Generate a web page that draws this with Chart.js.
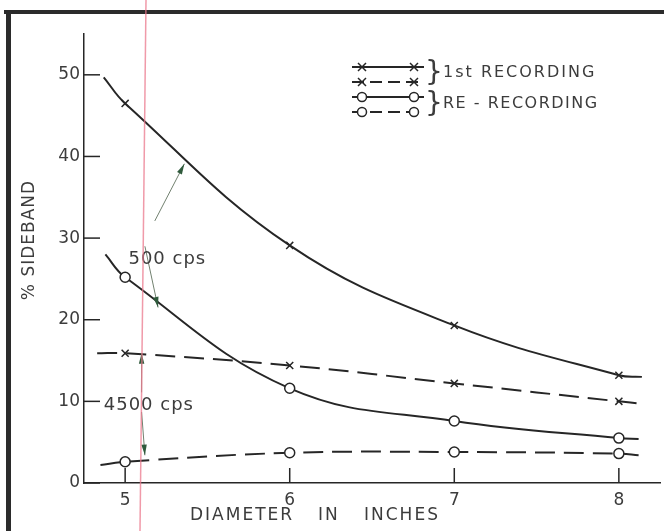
<!DOCTYPE html>
<html lang="en">
<head>
  <meta charset="UTF-8" />
  <title>% Sideband vs Diameter</title>
  <script src="https://cdn.jsdelivr.net/npm/chart.js"></script>
  <style>
    html, body { margin: 0; padding: 0; background: #fff; }
    #wrap { width: 664px; height: 531px; }
  </style>
</head>
<body>
  <div id="wrap"><canvas id="sidebandChart" width="664" height="531"></canvas></div>

  <script>
    // values (x = diameter in inches, y = % sideband)
    const xTicks = [5, 6, 7, 8];
    const yTicks = [0, 10, 20, 30, 40, 50];

    const xFirst500 = [4.87, 5, 6, 7, 8, 8.14];
    const yFirst500 = [49.7, 46.5, 29.1, 19.3, 13.2, 13.0];

    const xFirst4500 = [4.83, 5, 6, 7, 8, 8.14];
    const yFirst4500 = [15.9, 15.9, 14.4, 12.2, 10.0, 9.7];

    const xRe500 = [4.88, 5, 6, 7, 8, 8.12];
    const yRe500 = [28.0, 25.2, 11.6, 7.6, 5.5, 5.4];

    const xRe4500 = [4.85, 5, 6, 7, 8, 8.12];
    const yRe4500 = [2.2, 2.6, 3.7, 3.8, 3.6, 3.4];

    const ink = '#262626';
    const textInk = '#3c3c3c';
    const font = '"DejaVu Sans", sans-serif';

    function pts(xs, ys) {
      return xs.map((x, i) => ({ x: x, y: ys[i] }));
    }
    // no marker on the free ends of each curve
    function radii(xs, r) {
      return xs.map((x, i) => (i === 0 || i === xs.length - 1) ? 0 : r);
    }

    function series(label, xs, ys, dashed, style) {
      return {
        label: label,
        data: pts(xs, ys),
        borderColor: ink,
        borderWidth: 2,
        borderDash: dashed ? [20, 9] : [],
        tension: 0.4,
        pointStyle: style,
        pointRadius: radii(xs, 5),
        pointBorderWidth: 1.5,
        pointBorderColor: ink,
        pointBackgroundColor: '#fff',
        fill: false
      };
    }

    // arrows for the "500 cps" / "4500 cps" notes, in data units
    const noteArrows = [
      { from: [5.18, 32.1], to: [5.36, 39.1] },
      { from: [5.12, 29.0], to: [5.20, 21.5] },
      { from: [5.10, 11.1], to: [5.10, 15.9] },
      { from: [5.10, 8.7],  to: [5.12, 3.4] }
    ];
    const notes = [
      { text: '500 cps', at: [5.02, 27.4] },
      { text: '4500 cps', at: [4.87, 9.5] }
    ];

    function arrow(ctx, x1, y1, x2, y2) {
      const a = Math.atan2(y2 - y1, x2 - x1);
      ctx.strokeStyle = '#71806f';
      ctx.lineWidth = 1;
      ctx.beginPath();
      ctx.moveTo(x1, y1);
      ctx.lineTo(x2, y2);
      ctx.stroke();
      ctx.fillStyle = '#2f5a3c';
      ctx.beginPath();
      ctx.moveTo(x2, y2);
      ctx.lineTo(x2 - 11 * Math.cos(a - 0.25), y2 - 11 * Math.sin(a - 0.25));
      ctx.lineTo(x2 - 11 * Math.cos(a + 0.25), y2 - 11 * Math.sin(a + 0.25));
      ctx.closePath();
      ctx.fill();
    }

    function legendMark(ctx, x, y, style) {
      ctx.setLineDash([]);
      ctx.lineWidth = 1.5;
      ctx.strokeStyle = ink;
      ctx.beginPath();
      if (style === 'circle') {
        ctx.fillStyle = '#fff';
        ctx.arc(x, y, 4.5, 0, Math.PI * 2);
        ctx.fill();
        ctx.stroke();
      } else {
        ctx.moveTo(x - 4, y - 4); ctx.lineTo(x + 4, y + 4);
        ctx.moveTo(x + 4, y - 4); ctx.lineTo(x - 4, y + 4);
        ctx.stroke();
      }
    }

    const decor = {
      id: 'decor',
      afterDraw(chart) {
        const ctx = chart.ctx;
        const xs = chart.scales.x, ys = chart.scales.y;
        const area = chart.chartArea;
        ctx.save();

        // inward tick marks
        ctx.strokeStyle = ink;
        ctx.lineWidth = 1.5;
        ctx.setLineDash([]);
        yTicks.forEach(v => {
          const py = ys.getPixelForValue(v);
          ctx.beginPath();
          ctx.moveTo(area.left, py);
          ctx.lineTo(area.left + 16, py);
          ctx.stroke();
        });
        xTicks.forEach(v => {
          const px = xs.getPixelForValue(v);
          ctx.beginPath();
          ctx.moveTo(px, area.bottom);
          ctx.lineTo(px, area.bottom - 15);
          ctx.stroke();
        });

        // notes and arrows
        noteArrows.forEach(a => arrow(ctx,
          xs.getPixelForValue(a.from[0]), ys.getPixelForValue(a.from[1]),
          xs.getPixelForValue(a.to[0]), ys.getPixelForValue(a.to[1])));
        ctx.fillStyle = textInk;
        ctx.font = '18px ' + font;
        ctx.letterSpacing = '1px';
        ctx.textBaseline = 'middle';
        ctx.textAlign = 'left';
        notes.forEach(n => ctx.fillText(n.text, xs.getPixelForValue(n.at[0]), ys.getPixelForValue(n.at[1])));

        // legend
        const rows = [
          { y: 67, dashed: false, style: 'crossRot' },
          { y: 82, dashed: true, style: 'crossRot' },
          { y: 97, dashed: false, style: 'circle' },
          { y: 112, dashed: true, style: 'circle' }
        ];
        rows.forEach(r => {
          ctx.strokeStyle = ink;
          ctx.lineWidth = 2;
          ctx.setLineDash(r.dashed ? [12, 6] : []);
          ctx.beginPath();
          ctx.moveTo(352, r.y);
          ctx.lineTo(424, r.y);
          ctx.stroke();
          legendMark(ctx, 362, r.y, r.style);
          legendMark(ctx, 414, r.y, r.style);
        });
        ctx.setLineDash([]);
        ctx.fillStyle = textInk;
        ctx.font = '28px ' + font;
        ctx.letterSpacing = '0px';
        ctx.fillText('}', 425, 74);
        ctx.fillText('}', 425, 105);
        ctx.font = '16px ' + font;
        ctx.letterSpacing = '2px';
        ctx.fillText('1st RECORDING', 443, 73);
        ctx.letterSpacing = '1.5px';
        ctx.fillText('RE - RECORDING', 443, 104);

        // axis titles
        ctx.font = '17px ' + font;
        ctx.letterSpacing = '2px';
        ctx.fillText('DIAMETER', 190, 516);
        ctx.fillText('IN', 318, 516);
        ctx.fillText('INCHES', 364, 516);
        ctx.save();
        ctx.translate(30, 240);
        ctx.rotate(-Math.PI / 2);
        ctx.textAlign = 'center';
        ctx.font = '17px ' + font;
        ctx.letterSpacing = '1px';
        ctx.fillText('% SIDEBAND', 0, 0);
        ctx.restore();

        // frame of the page and the pink scan line
        ctx.fillStyle = '#2b2b2b';
        ctx.fillRect(4, 10, 660, 4);
        ctx.fillRect(6, 10, 5, 521);
        ctx.strokeStyle = 'rgba(235, 120, 140, 0.75)';
        ctx.lineWidth = 1.5;
        ctx.beginPath();
        ctx.moveTo(146, 0);
        ctx.lineTo(140, 531);
        ctx.stroke();
        ctx.restore();
      }
    };

    new Chart(document.getElementById('sidebandChart'), {
      type: 'line',
      data: {
        datasets: [
          series('1st recording 500 cps', xFirst500, yFirst500, false, 'crossRot'),
          series('1st recording 4500 cps', xFirst4500, yFirst4500, true, 'crossRot'),
          series('Re-recording 500 cps', xRe500, yRe500, false, 'circle'),
          series('Re-recording 4500 cps', xRe4500, yRe4500, true, 'circle')
        ]
      },
      options: {
        responsive: false,
        animation: false,
        devicePixelRatio: 1,
        layout: { padding: { left: 0, top: 34, right: 4, bottom: 0 } },
        plugins: { legend: { display: false }, tooltip: { enabled: false } },
        scales: {
          x: {
            type: 'linear',
            min: 4.75,
            max: 8.25,
            afterBuildTicks: s => { s.ticks = xTicks.map(v => ({ value: v })); },
            afterFit: s => { s.height = 48; },
            grid: { display: false, drawTicks: false },
            border: { display: true, color: ink, width: 1.5 },
            ticks: { padding: 7, color: textInk, font: { family: font, size: 17 } }
          },
          y: {
            min: 0,
            max: 55,
            afterBuildTicks: s => { s.ticks = yTicks.map(v => ({ value: v })); },
            afterFit: s => { s.width = 84; },
            grid: { display: false, drawTicks: false },
            border: { display: true, color: ink, width: 1.5 },
            ticks: { padding: 4, color: textInk, font: { family: font, size: 17 } }
          }
        }
      },
      plugins: [decor]
    });
  </script>
</body>
</html>
